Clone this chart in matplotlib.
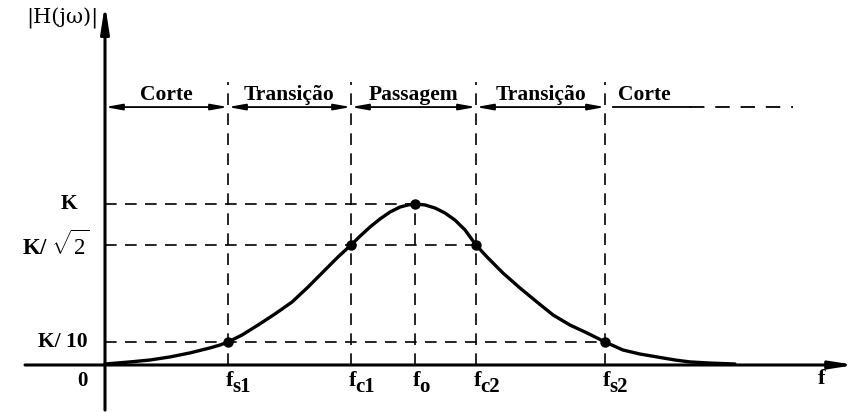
import matplotlib
matplotlib.use("Agg")
import matplotlib.pyplot as plt

plt.rcParams['mathtext.fontset'] = 'custom'
plt.rcParams['mathtext.rm'] = 'Liberation Serif'
plt.rcParams['mathtext.bf'] = 'Liberation Serif:bold'
plt.rcParams['mathtext.it'] = 'Liberation Serif:italic'

# frequencies of the marked points (f_s1, f_c1, f_o, f_c2, f_s2)
f_subs = ['s1', 'c1', 'o', 'c2', 's2']
f_marks = [1.23, 2.46, 3.10, 3.71, 5.00]
h_marks = [0.143, 0.745, 1.0, 0.745, 0.143]

# levels on the vertical axis
level_names = ['K', r'K/ $\sqrt{2}$', 'K/ 10']
level_values = [1.0, 0.745, 0.143]
level_ends = [3.10, 3.71, 5.00]

# curve |H(jw)|
f_curve = [0.0, 0.25, 0.45, 0.65, 0.85, 1.05, 1.15, 1.23, 1.37, 1.53, 1.70,
           1.87, 2.03, 2.20, 2.33, 2.46, 2.55, 2.65, 2.75, 2.85, 2.95, 3.03,
           3.10, 3.20, 3.30, 3.40, 3.50, 3.60, 3.71, 3.82, 3.98, 4.15, 4.32,
           4.48, 4.65, 4.82, 5.00, 5.18, 5.35, 5.52, 5.70, 5.85, 6.05, 6.30]
h_curve = [0.006, 0.019, 0.031, 0.050, 0.075, 0.106, 0.124, 0.143, 0.186,
           0.248, 0.317, 0.391, 0.484, 0.590, 0.671, 0.745, 0.800, 0.857,
           0.907, 0.950, 0.981, 0.994, 1.0, 0.994, 0.975, 0.944, 0.900,
           0.839, 0.745, 0.671, 0.571, 0.478, 0.391, 0.311, 0.248, 0.199,
           0.143, 0.093, 0.068, 0.050, 0.031, 0.019, 0.012, 0.006]

# bands along the top
band_names = ['Corte', 'Transição', 'Passagem', 'Transição']
band_edges = [0.0, 1.23, 2.46, 3.71, 5.00]
band_y = 1.602

fig = plt.figure(figsize=(8.58, 4.12), dpi=100)
ax = fig.add_axes([0, 0, 1, 1])
ax.set_xlim(-1.05, 7.53)
ax.set_ylim(-0.292, 2.267)
ax.axis('off')

serif = dict(family='Liberation Serif', fontweight='bold', color='black')

# axes with arrows
ax.annotate('', xy=(0, 2.24), xytext=(0, -0.28),
            arrowprops=dict(arrowstyle='-|>,head_length=1.6,head_width=0.25',
                            lw=2.2, color='black', shrinkA=0, shrinkB=0))
ax.annotate('', xy=(7.5, 0), xytext=(-0.8, 0),
            arrowprops=dict(arrowstyle='-|>,head_length=1.4,head_width=0.22',
                            lw=2.2, color='black', shrinkA=0, shrinkB=0))

# dashed guides
for f in f_marks:
    if f == 3.10:
        top = 1.0
    else:
        top = 1.76
    ax.plot([f, f], [0, top], color='black', lw=1.2, dashes=(7, 5))
for v, end in zip(level_values, level_ends):
    ax.plot([0, end], [v, v], color='black', lw=1.2, dashes=(7, 5))

# curve and points
ax.plot(f_curve, h_curve, color='black', lw=2.4, solid_joinstyle='round',
        solid_capstyle='round')
ax.plot(f_marks, h_marks, 'o', color='black', ms=6.5)

# band arrows and labels
for name, a, b in zip(band_names, band_edges[:-1], band_edges[1:]):
    ax.annotate('', xy=(b, band_y), xytext=(a, band_y),
                arrowprops=dict(arrowstyle='<|-|>,head_length=1.0,head_width=0.18',
                                lw=1.3, color='black', shrinkA=0, shrinkB=0))
    ax.text((a + b) / 2, 1.646, name, ha='center', va='baseline',
            fontsize=15.5, **serif)
ax.plot([5.08, 5.85], [band_y, band_y], color='black', lw=1.3)
ax.plot([5.85, 6.88], [band_y, band_y], color='black', lw=1.3, dashes=(8, 6))
ax.text(5.13, 1.646, 'Corte', ha='left', va='baseline', fontsize=15.5, **serif)

# labels on the vertical axis
ax.text(-0.36, 1.0, 'K', ha='center', va='center', fontsize=15.5, **serif)
ax.text(-0.15, 0.745, level_names[1], ha='right', va='center', fontsize=16.5,
        **serif)
ax.text(-0.17, 0.143, level_names[2], ha='right', va='center', fontsize=15.5,
        **serif)
ax.text(-0.23, -0.1, '0', ha='center', va='center', fontsize=15, **serif)

# labels on the frequency axis
for sub, f in zip(f_subs, f_marks):
    ax.text(f - 0.02, -0.04, 'f', ha='left', va='top', fontsize=16, **serif)
    ax.text(f + 0.045, -0.075, sub, ha='left', va='top', fontsize=15, **serif)
ax.text(7.17, -0.09, 'f', ha='center', va='center', fontsize=16, **serif)
ax.text(-0.43, 2.15, '|H(jω)|', ha='center', va='center', fontsize=15,
        family='DejaVu Serif', color='black')

fig.savefig('out.png', dpi=100)
